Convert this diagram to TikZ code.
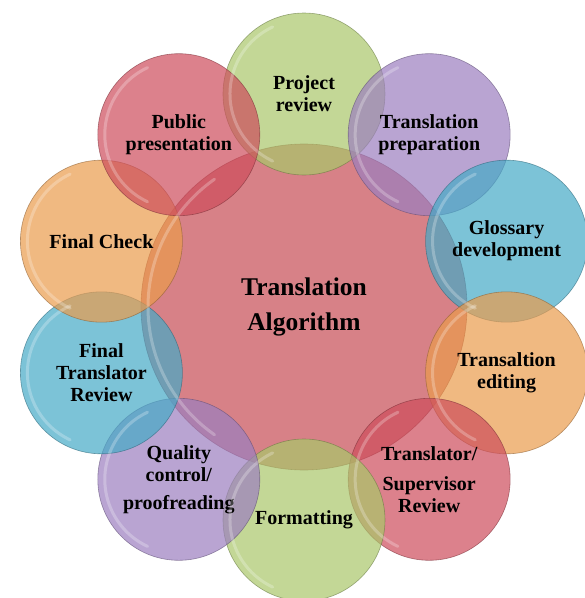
\documentclass[tikz,border=0pt]{standalone}
\usepackage{fontspec}
\setmainfont{Liberation Serif}
\definecolor{stgreen}{RGB}{169,198,105}
\definecolor{stpurple}{RGB}{155,126,191}
\definecolor{stblue}{RGB}{69,169,198}
\definecolor{storange}{RGB}{234,155,76}
\definecolor{stred}{RGB}{205,76,91}
\definecolor{algred}{RGB}{198,76,84}
\tikzset{
  stage/.style={circle, minimum size=162pt, inner sep=0pt, align=center,
    fill=#1, fill opacity=.7, text opacity=1, draw=#1!60!black, draw opacity=.6,
    line width=.6pt, text=black, font=\bfseries\fontsize{20}{22}\selectfont},
  rim/.style={white, opacity=.25, line width=3pt, line cap=round}
}
\begin{document}
\begin{tikzpicture}[x=1pt, y=1pt]
\useasboundingbox (-304,-291) rectangle (281,307);
% centre circle
\node[stage=algred, minimum size=326pt, font=\bfseries\fontsize{25.5}{35}\selectfont]
  (alg) at (0,0) {Translation\\Algorithm};

% the ten stages
\node[stage=stgreen]  (review)  at (90:213)   {Project\\review};
\node[stage=stpurple] (prep)    at (54:213)   {Translation\\preparation};
\node[stage=stblue]   (gloss)   at (18:213)   {Glossary\\development};
\node[stage=storange] (edit)    at (-18:213)  {Transaltion\\editing};
\node[stage=stred]    (super)   at (-54:213)  {Translator/\\[8pt]Supervisor\\Review};
\node[stage=stgreen]  (format)  at (-90:213)  {Formatting};
\node[stage=stpurple] (quality) at (-126:213) {Quality\\control/\\[6pt]proofreading};
\node[stage=stblue]   (final)   at (-162:213) {Final\\Translator\\Review};
\node[stage=storange] (check)   at (162:213)  {Final Check};
\node[stage=stred]    (public)  at (126:213)  {Public\\presentation};

% glossy rims
\foreach \n in {review,prep,gloss,edit,super,format,quality,final,check,public}
{
    \draw[rim] (\n.center) ++(115:74) arc (115:245:74);
}
\draw[rim] (alg.center) ++(125:156) arc (125:235:156);
\end{tikzpicture}
\end{document}
